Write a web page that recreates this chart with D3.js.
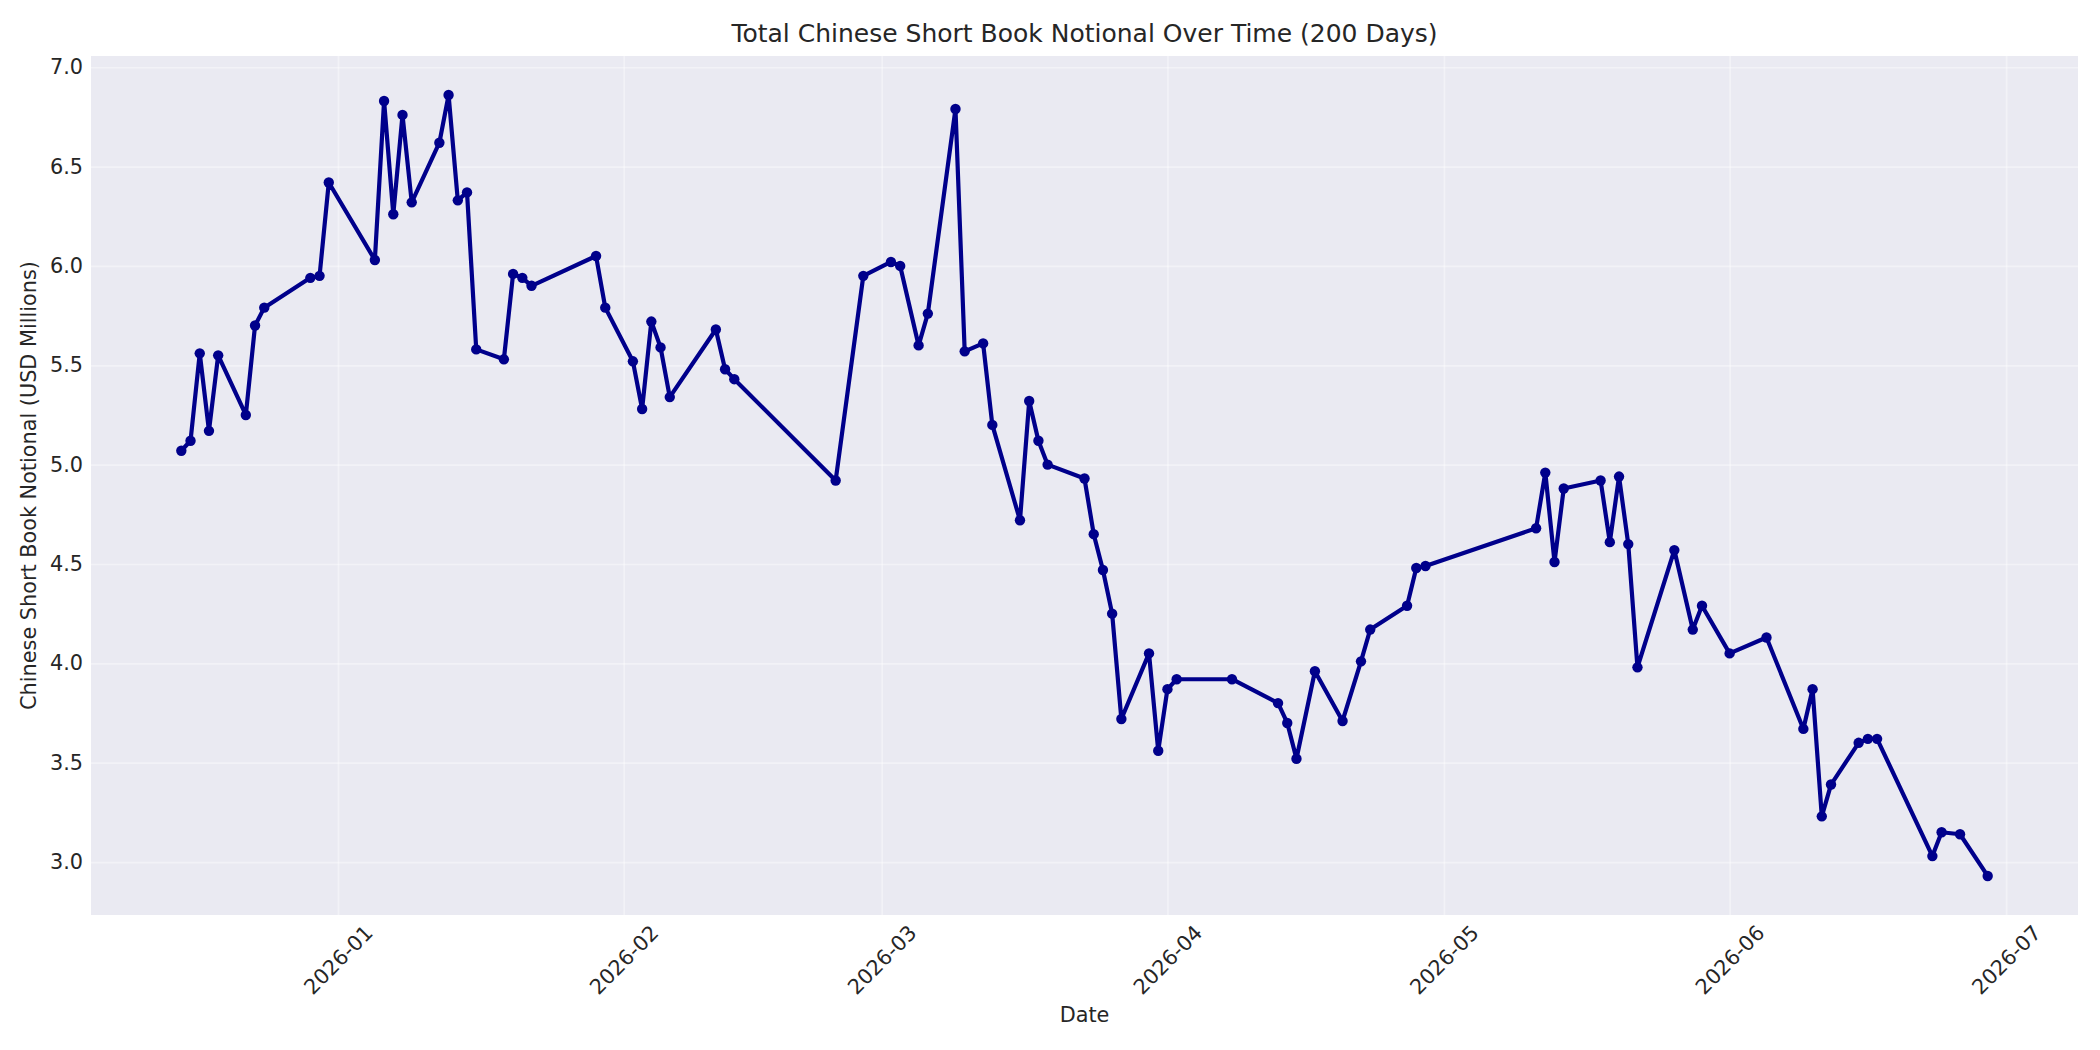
<!DOCTYPE html>
<html>
<head>
<meta charset="utf-8">
<script src="https://cdn.jsdelivr.net/npm/d3@7"></script>
<style>
  body { margin: 0; background: #ffffff; }
  svg text { font-family: "DejaVu Sans", sans-serif; fill: #262626; }
</style>
</head>
<body>
<div id="chart"></div>
<script>
// Chart data (business days)
const dates = [
  '2025-12-15', '2025-12-16', '2025-12-17', '2025-12-18', '2025-12-19',
  '2025-12-22', '2025-12-23', '2025-12-24', '2025-12-29', '2025-12-30',
  '2025-12-31', '2026-01-05', '2026-01-06', '2026-01-07', '2026-01-08',
  '2026-01-09', '2026-01-12', '2026-01-13', '2026-01-14', '2026-01-15',
  '2026-01-16', '2026-01-19', '2026-01-20', '2026-01-21', '2026-01-22',
  '2026-01-29', '2026-01-30', '2026-02-02', '2026-02-03', '2026-02-04',
  '2026-02-05', '2026-02-06', '2026-02-11', '2026-02-12', '2026-02-13',
  '2026-02-24', '2026-02-27', '2026-03-02', '2026-03-03', '2026-03-05',
  '2026-03-06', '2026-03-09', '2026-03-10', '2026-03-12', '2026-03-13',
  '2026-03-16', '2026-03-17', '2026-03-18', '2026-03-19', '2026-03-23',
  '2026-03-24', '2026-03-25', '2026-03-26', '2026-03-27', '2026-03-30',
  '2026-03-31', '2026-04-01', '2026-04-02', '2026-04-08', '2026-04-13',
  '2026-04-14', '2026-04-15', '2026-04-17', '2026-04-20', '2026-04-22',
  '2026-04-23', '2026-04-27', '2026-04-28', '2026-04-29', '2026-05-11',
  '2026-05-12', '2026-05-13', '2026-05-14', '2026-05-18', '2026-05-19',
  '2026-05-20', '2026-05-21', '2026-05-22', '2026-05-26', '2026-05-28',
  '2026-05-29', '2026-06-01', '2026-06-05', '2026-06-09', '2026-06-10',
  '2026-06-11', '2026-06-12', '2026-06-15', '2026-06-16', '2026-06-17',
  '2026-06-23', '2026-06-24', '2026-06-26', '2026-06-29',
]

const notional = [
  5.07, 5.12, 5.56, 5.17, 5.55,
  5.25, 5.70, 5.79, 5.94, 5.95,
  6.42, 6.03, 6.83, 6.26, 6.76,
  6.32, 6.62, 6.86, 6.33, 6.37,
  5.58, 5.53, 5.96, 5.94, 5.90,
  6.05, 5.79, 5.52, 5.28, 5.72,
  5.59, 5.34, 5.68, 5.48, 5.43,
  4.92, 5.95, 6.02, 6.00, 5.60,
  5.76, 6.79, 5.57, 5.61, 5.20,
  4.72, 5.32, 5.12, 5.00, 4.93,
  4.65, 4.47, 4.25, 3.72, 4.05,
  3.56, 3.87, 3.92, 3.92, 3.80,
  3.70, 3.52, 3.96, 3.71, 4.01,
  4.17, 4.29, 4.48, 4.49, 4.68,
  4.96, 4.51, 4.88, 4.92, 4.61,
  4.94, 4.60, 3.98, 4.57, 4.17,
  4.29, 4.05, 4.13, 3.67, 3.87,
  3.23, 3.39, 3.60, 3.62, 3.62,
  3.03, 3.15, 3.14, 2.93,
]

const yTicks = [3.0, 3.5, 4.0, 4.5, 5.0, 5.5, 6.0, 6.5, 7.0]

const titleText = 'Total Chinese Short Book Notional Over Time (200 Days)'
const xLabel = 'Date'
const yLabel = 'Chinese Short Book Notional (USD Millions)'

const width = 2100
const height = 1050
const margin = { top: 56, right: 22, bottom: 135, left: 91 }
const lineColor = '#00008b'
const fontSize = 20.8

const parseDate = d3.utcParse('%Y-%m-%d')
const data = dates.map((d, i) => ({ date: parseDate(d), value: notional[i] }))

// Pad both domains by 5% like matplotlib's auto margins
function padded(extent) {
  const span = extent[1] - extent[0]
  return [+extent[0] - span * 0.05, +extent[1] + span * 0.05]
}

const xDomain = padded(d3.extent(data, d => d.date)).map(t => new Date(t))
const yDomain = padded(d3.extent(data, d => d.value))

const x = d3.scaleUtc()
  .domain(xDomain)
  .range([margin.left, width - margin.right])

const y = d3.scaleLinear()
  .domain(yDomain)
  .range([height - margin.bottom, margin.top])

const svg = d3.select('#chart')
  .append('svg')
  .attr('width', width)
  .attr('height', height)

// Plot background
svg.append('rect')
  .attr('x', margin.left)
  .attr('y', margin.top)
  .attr('width', width - margin.left - margin.right)
  .attr('height', height - margin.top - margin.bottom)
  .attr('fill', '#eaeaf2')

// Horizontal grid + y tick labels
const yAxis = d3.axisLeft(y)
  .tickValues(yTicks)
  .tickFormat(d3.format('.1f'))
  .tickSize(-(width - margin.left - margin.right))
  .tickPadding(8)

const gy = svg.append('g')
  .attr('transform', `translate(${margin.left},0)`)
  .call(yAxis)

gy.select('.domain').remove()
gy.selectAll('.tick line')
  .attr('stroke', '#ffffff')
  .attr('stroke-opacity', 0.4)
  .attr('stroke-width', 1.7)
gy.selectAll('.tick text')
  .attr('font-size', fontSize)
  .attr('fill', '#262626')

// Vertical grid + x tick labels (monthly)
const xAxis = d3.axisBottom(x)
  .ticks(d3.utcMonth.every(1))
  .tickFormat(d3.utcFormat('%Y-%m'))
  .tickSize(-(height - margin.top - margin.bottom))

const gx = svg.append('g')
  .attr('transform', `translate(0,${height - margin.bottom})`)
  .call(xAxis)

gx.select('.domain').remove()
gx.selectAll('.tick line')
  .attr('stroke', '#ffffff')
  .attr('stroke-opacity', 0.4)
  .attr('stroke-width', 1.7)
gx.selectAll('.tick text')
  .attr('font-size', fontSize)
  .attr('fill', '#262626')
  .attr('y', 0)
  .attr('dy', null)
  .attr('text-anchor', 'middle')
  .attr('dominant-baseline', 'central')
  .attr('transform', 'translate(0,45) rotate(-45)')

// Line + markers
const line = d3.line()
  .x(d => x(d.date))
  .y(d => y(d.value))

svg.append('path')
  .datum(data)
  .attr('fill', 'none')
  .attr('stroke', lineColor)
  .attr('stroke-width', 4.2)
  .attr('stroke-linejoin', 'round')
  .attr('d', line)

svg.append('g')
  .selectAll('circle')
  .data(data)
  .join('circle')
  .attr('cx', d => x(d.date))
  .attr('cy', d => y(d.value))
  .attr('r', 5.2)
  .attr('fill', lineColor)

// Title and axis labels
svg.append('text')
  .attr('x', (margin.left + width - margin.right) / 2)
  .attr('y', 42)
  .attr('text-anchor', 'middle')
  .attr('font-size', 25)
  .text(titleText)

svg.append('text')
  .attr('x', (margin.left + width - margin.right) / 2)
  .attr('y', 1022)
  .attr('text-anchor', 'middle')
  .attr('font-size', fontSize)
  .text(xLabel)

svg.append('text')
  .attr('transform', `translate(36,${(margin.top + height - margin.bottom) / 2}) rotate(-90)`)
  .attr('text-anchor', 'middle')
  .attr('font-size', fontSize)
  .text(yLabel)
</script>
</body>
</html>
